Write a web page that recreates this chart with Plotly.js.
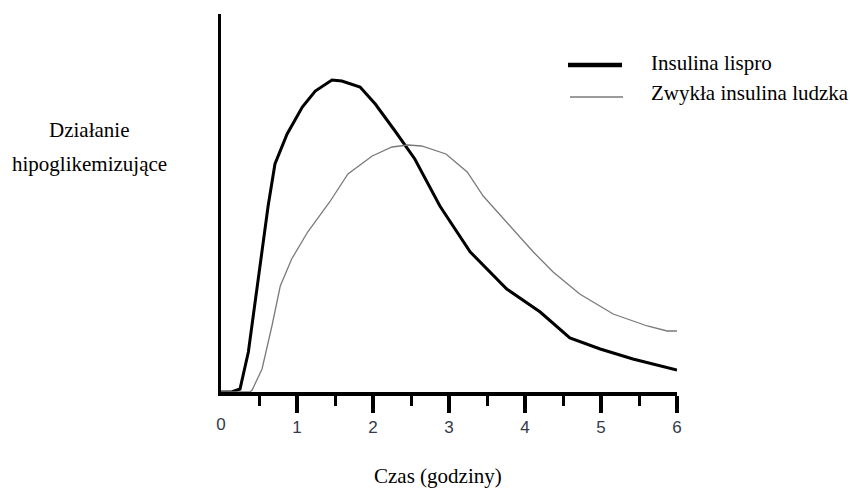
<!DOCTYPE html>
<html><head><meta charset="utf-8">
<script src="https://cdn.plot.ly/plotly-3.0.1.min.js"></script>
<style>html,body{margin:0;padding:0;background:#fff}#chart{width:850px;height:491px}</style>
</head><body><div id="chart"></div>
<script>
// ---- data ----
const seriesNames = ['Insulina lispro', 'Zwykła insulina ludzka'];
const lisproX = [0, 0.14, 0.25, 0.36, 0.49, 0.62, 0.71, 0.87, 1.07, 1.24, 1.46, 1.59, 1.83, 2.03, 2.29, 2.55, 2.88, 3.28, 3.76, 4.20, 4.59, 4.99, 5.42, 6.0];
const lisproY = [0, 0, 3, 40, 113, 186, 228, 258, 285, 301, 312, 311, 305, 288, 261, 233, 186, 140, 103, 80, 54, 43, 33, 22];
const humanX = [0, 0.38, 0.41, 0.54, 0.67, 0.78, 0.93, 1.14, 1.43, 1.67, 1.99, 2.25, 2.46, 2.64, 2.96, 3.24, 3.45, 3.80, 4.11, 4.37, 4.72, 5.16, 5.61, 5.87, 6.0];
const humanY = [0, 0, 2, 23, 66, 106, 133, 160, 190, 218, 236, 245, 247, 246, 238, 220, 196, 166, 140, 120, 98, 78, 66, 61, 61];
const majorTickValues = [1, 2, 3, 4, 5, 6];
const majorTickLabels = ['1', '2', '3', '4', '5', '6'];
const zeroTickValues = [0];
const zeroTickLabels = ['0'];
const minorTickValues = [0.5, 1.5, 2.5, 3.5, 4.5, 5.5];
const yAxisLabelLines = ['Działanie', 'hipoglikemizujące'];
const xAxisLabel = 'Czas (godziny)';

// ---- layout geometry ----
const WIDTH = 850, HEIGHT = 491;
const L = 221, T = 14, W = 456, H = 378;
const px2x = p => (p - L) / W;
const px2y = p => (T + H - p) / H;
const serif = 'Liberation Serif, Times New Roman, serif';
const tickFont = {family: 'Liberation Sans, Arial, sans-serif', size: 17, color: '#333a48'};
const colors = ['#000000', '#7a7a7a'];

const traces = [
  {x: lisproX, y: lisproY, name: seriesNames[0], mode: 'lines', xaxis: 'x', yaxis: 'y',
   line: {color: colors[0], width: 3}, showlegend: false, hoverinfo: 'skip'},
  {x: humanX, y: humanY, name: seriesNames[1], mode: 'lines', xaxis: 'x2', yaxis: 'y',
   line: {color: colors[1], width: 1.3}, showlegend: false, hoverinfo: 'skip'}
];

const layout = {
  width: WIDTH, height: HEIGHT,
  margin: {l: L, t: T, r: WIDTH - L - W, b: HEIGHT - T - H, pad: 0},
  paper_bgcolor: '#fff', plot_bgcolor: '#fff',
  showlegend: false,
  xaxis: {
    range: [0, 6], showline: true, linecolor: '#000', linewidth: 3.5,
    showgrid: false, zeroline: false, fixedrange: true,
    tickmode: 'array', tickvals: majorTickValues, ticktext: majorTickLabels,
    ticks: 'outside', ticklen: 17, tickwidth: 3.5, tickcolor: '#000',
    tickfont: tickFont,
    minor: {tickmode: 'array', tickvals: minorTickValues, ticks: 'outside', ticklen: 10, tickwidth: 3, tickcolor: '#000', showgrid: false}
  },
  xaxis2: {
    matches: 'x', overlaying: 'x', anchor: 'y', side: 'bottom', range: [0, 6],
    showline: false, showgrid: false, zeroline: false, fixedrange: true,
    tickmode: 'array', tickvals: zeroTickValues, ticktext: zeroTickLabels,
    ticks: 'outside', ticklen: 17, tickwidth: 1, tickcolor: 'rgba(0,0,0,0)',
    tickfont: tickFont
  },
  yaxis: {
    range: [0, 378], showline: true, linecolor: '#000', linewidth: 3,
    showgrid: false, zeroline: false, ticks: '', showticklabels: false, fixedrange: true
  },
  shapes: [
    {type: 'line', xref: 'paper', yref: 'paper', x0: px2x(568), x1: px2x(622), y0: px2y(65), y1: px2y(65), line: {color: colors[0], width: 4.5}},
    {type: 'line', xref: 'paper', yref: 'paper', x0: px2x(570), x1: px2x(623), y0: px2y(97), y1: px2y(97), line: {color: colors[1], width: 1.3}}
  ],
  annotations: [
    {text: seriesNames[0], xref: 'paper', yref: 'paper', x: px2x(649), y: px2y(63), xanchor: 'left', yanchor: 'middle', showarrow: false, font: {family: serif, size: 21, color: '#000'}},
    {text: seriesNames[1], xref: 'paper', yref: 'paper', x: px2x(649), y: px2y(93), xanchor: 'left', yanchor: 'middle', showarrow: false, font: {family: serif, size: 21, color: '#000'}},
    {text: yAxisLabelLines[0], xref: 'paper', yref: 'paper', x: px2x(89), y: px2y(130), xanchor: 'center', yanchor: 'middle', showarrow: false, font: {family: serif, size: 21, color: '#000'}},
    {text: yAxisLabelLines[1], xref: 'paper', yref: 'paper', x: px2x(89), y: px2y(164), xanchor: 'center', yanchor: 'middle', showarrow: false, font: {family: serif, size: 21, color: '#000'}},
    {text: xAxisLabel, xref: 'paper', yref: 'paper', x: px2x(438), y: px2y(476), xanchor: 'center', yanchor: 'middle', showarrow: false, font: {family: serif, size: 21, color: '#000'}}
  ]
};

Plotly.newPlot('chart', traces, layout, {displayModeBar: false, staticPlot: true});
</script>
</body></html>
